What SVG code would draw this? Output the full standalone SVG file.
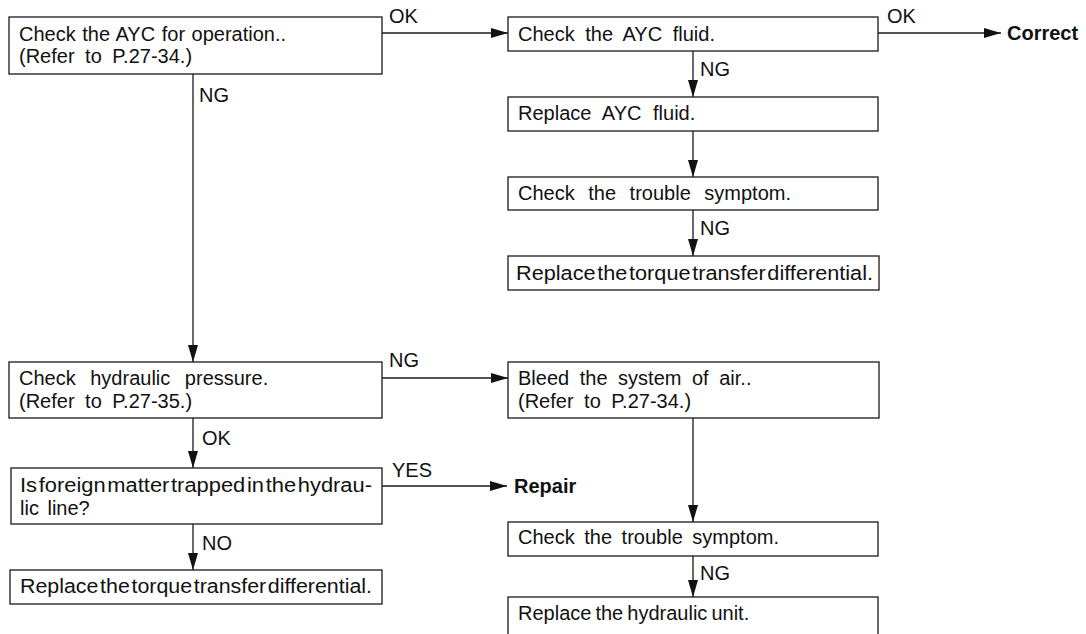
<svg xmlns="http://www.w3.org/2000/svg" width="1086" height="634" viewBox="0 0 1086 634">
<defs>
<style>
.box{fill:#fff;stroke:#1a1a1a;stroke-width:1.3}
.t{font-family:"Liberation Sans",Arial,sans-serif;font-size:20px;fill:#111}
.b{font-family:"Liberation Sans",Arial,sans-serif;font-size:20px;font-weight:bold;fill:#111}
.c{fill:none;stroke:#1a1a1a;stroke-width:1.3}
</style>
<marker id="ah" markerUnits="userSpaceOnUse" markerWidth="17" markerHeight="10" refX="17" refY="5" orient="auto">
<path d="M0,0 L17,5 L0,10 z" fill="#111"/>
</marker>
</defs>
<rect width="1086" height="634" fill="#fff"/>
<g id="connectors">
<path class="c" d="M382,33 H508" marker-end="url(#ah)"/>
<text class="t" x="389" y="23">OK</text>
<path class="c" d="M878,33 H1001" marker-end="url(#ah)"/>
<text class="t" x="887" y="23">OK</text>
<path class="c" d="M693,51 V97" marker-end="url(#ah)"/>
<text class="t" x="700" y="76">NG</text>
<path class="c" d="M693,131 V177" marker-end="url(#ah)"/>
<path class="c" d="M693,210 V256" marker-end="url(#ah)"/>
<text class="t" x="700" y="235">NG</text>
<path class="c" d="M193,74 V362" marker-end="url(#ah)"/>
<text class="t" x="199" y="102">NG</text>
<path class="c" d="M382,378 H508" marker-end="url(#ah)"/>
<text class="t" x="389" y="367">NG</text>
<path class="c" d="M693,418 V522" marker-end="url(#ah)"/>
<path class="c" d="M693,556 V597" marker-end="url(#ah)"/>
<text class="t" x="700" y="580">NG</text>
<path class="c" d="M193,418 V468" marker-end="url(#ah)"/>
<text class="t" x="202" y="445">OK</text>
<path class="c" d="M382,486 H507" marker-end="url(#ah)"/>
<text class="t" x="392" y="477">YES</text>
<path class="c" d="M193,524 V570" marker-end="url(#ah)"/>
<text class="t" x="202" y="550">NO</text>
</g>
<g id="n1"><rect class="box" x="9" y="17" width="373" height="57"/>
<text class="t" x="19" y="41" word-spacing="1">Check the AYC for operation..</text>
<text class="t" x="19" y="63" word-spacing="5">(Refer to P.27-34.)</text></g>
<g id="n2"><rect class="box" x="508" y="17" width="370" height="34"/>
<text class="t" x="518" y="41" word-spacing="5">Check the AYC fluid.</text></g>
<g id="correct"><text class="b" x="1007" y="40">Correct</text></g>
<g id="n3"><rect class="box" x="508" y="97" width="370" height="34"/>
<text class="t" x="518" y="120" word-spacing="6">Replace AYC fluid.</text></g>
<g id="n4"><rect class="box" x="508" y="177" width="370" height="33"/>
<text class="t" x="518" y="200" word-spacing="8">Check the trouble symptom.</text></g>
<g id="n5"><rect class="box" x="508" y="256" width="371" height="34"/>
<text class="t" x="516" y="280" textLength="357" lengthAdjust="spacingAndGlyphs" word-spacing="-4">Replace the torque transfer differential.</text></g>
<g id="n6"><rect class="box" x="9" y="362" width="373" height="56"/>
<text class="t" x="19" y="385" word-spacing="9">Check hydraulic pressure.</text>
<text class="t" x="19" y="408" word-spacing="5">(Refer to P.27-35.)</text></g>
<g id="n7"><rect class="box" x="508" y="362" width="371" height="56"/>
<text class="t" x="518" y="385" word-spacing="5">Bleed the system of air..</text>
<text class="t" x="518" y="408" word-spacing="5">(Refer to P.27-34.)</text></g>
<g id="n8"><rect class="box" x="508" y="522" width="370" height="34"/>
<text class="t" x="518" y="544" word-spacing="4">Check the trouble symptom.</text></g>
<g id="n9"><rect class="box" x="508" y="597" width="370" height="45"/>
<text class="t" x="518" y="620" word-spacing="-1.5">Replace the hydraulic unit.</text></g>
<g id="n10"><rect class="box" x="11" y="468" width="371" height="56"/>
<text class="t" x="20" y="492" textLength="352" lengthAdjust="spacingAndGlyphs" word-spacing="-4">Is foreign matter trapped in the hydrau-</text>
<text class="t" x="20" y="515" word-spacing="3">lic line?</text></g>
<g id="repair"><text class="b" x="514" y="493">Repair</text></g>
<g id="n11"><rect class="box" x="10" y="570" width="372" height="34"/>
<text class="t" x="20" y="593" textLength="352" lengthAdjust="spacingAndGlyphs" word-spacing="-4">Replace the torque transfer differential.</text></g>
</svg>
